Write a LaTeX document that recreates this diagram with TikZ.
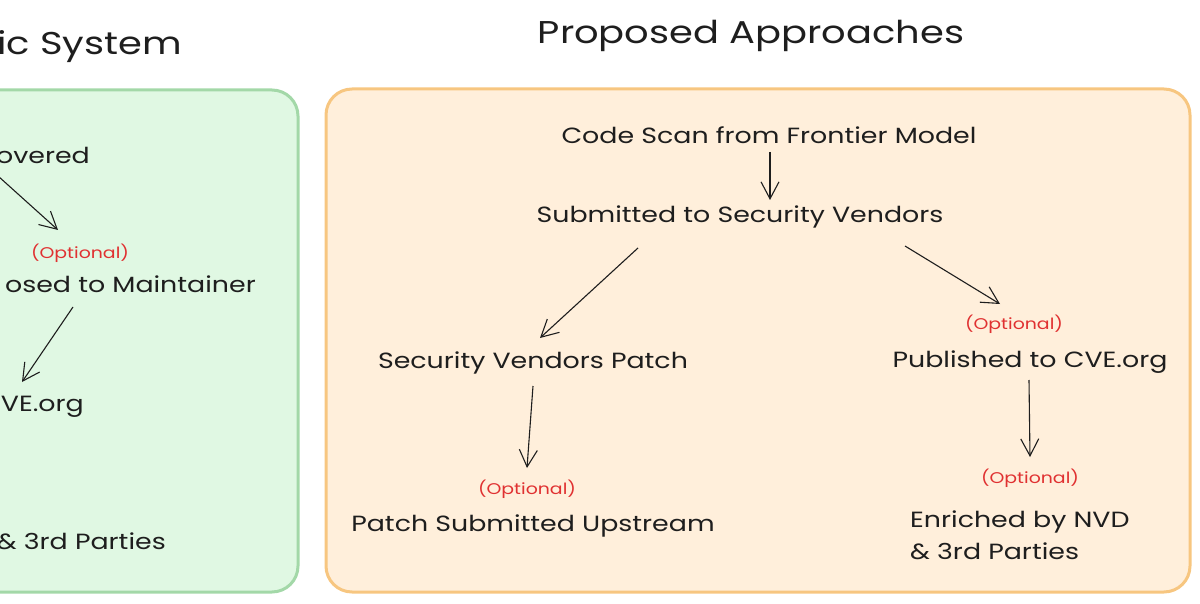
\documentclass[tikz,border=0pt]{standalone}
\usepackage{fontspec}
\setmainfont{Poppins}[FakeStretch=1.22]
\usetikzlibrary{arrows.meta}
\definecolor{gfill}{RGB}{224,248,227}
\definecolor{gline}{RGB}{163,216,168}
\definecolor{ofill}{RGB}{255,239,219}
\definecolor{oline}{RGB}{247,198,128}
\definecolor{optred}{RGB}{224,49,49}
\definecolor{ink}{RGB}{30,30,30}
\tikzset{
  panel/.style={line width=3pt, rounded corners=26pt},
  lbl/.style={font=\fontsize{22}{26}\selectfont, text=ink, inner sep=0pt},
  ttl/.style={font=\fontsize{31.5}{38}\selectfont, text=ink, inner sep=0pt},
  opt/.style={font=\fontsize{15.5}{18}\selectfont, text=optred, inner sep=0pt},
  flow/.style={draw=ink, line width=1.1pt, -{Straight Barb[length=17pt,width=18pt,line width=1.1pt]}}
}
\begin{document}
\begin{tikzpicture}[x=1pt,y=-1pt]
\useasboundingbox (0,0) rectangle (1200,604);
\clip (0,0) rectangle (1200,604);
% panels
\draw[panel, draw=gline, fill=gfill] (-200,90) rectangle (298,592);
\draw[panel, draw=oline, fill=ofill] (326,89) rectangle (1190,592);
% titles
\node[ttl, anchor=east] (lt) at (182,47) {ic System};
\node[ttl] (rt) at (751,36) {Proposed Approaches};
% left panel (clipped)
\node[lbl, anchor=east] (l1) at (90,155) {overed};
\node[opt] (lo1) at (80,253) {(Optional)};
\node[lbl, anchor=east] (l2) at (256,284) {osed to Maintainer};
\node[lbl, anchor=east] (l3) at (84,407) {VE.org};
\node[lbl, anchor=east] (l4) at (166,541) {\& 3rd Parties};
\coordinate (ls) at (-12,167);
\coordinate (la) at (58,230);
\coordinate (lb1) at (73,307);
\coordinate (lb2) at (22,382);
\draw[flow] (ls) -- (la);
\draw[flow] (lb1) -- (lb2);
% right panel
\node[lbl] (a) at (769,135) {Code Scan from Frontier Model};
\node[lbl] (b) at (740,217) {Submitted to Security Vendors};
\node[lbl] (c) at (533,363) {Security Vendors Patch};
\node[opt] (co) at (1014,324) {(Optional)};
\node[lbl] (d) at (1030,362) {Published to CVE.org};
\node[opt] (eo) at (527,489) {(Optional)};
\node[lbl] (e) at (533,526) {Patch Submitted Upstream};
\node[opt] (fo) at (1030,478) {(Optional)};
\node[lbl, align=left, anchor=north west, font=\fontsize{22}{32}\selectfont] (f) at (910,511) {Enriched by NVD\\\& 3rd Parties};
\coordinate (a-out) at (770,152);
\coordinate (b-in) at (770,200);
\coordinate (b-outl) at (638,248);
\coordinate (c-in) at (540,338);
\coordinate (b-outr) at (905,246);
\coordinate (d-in) at (1000,304);
\coordinate (c-out) at (533,386);
\coordinate (e-in) at (527,468);
\coordinate (d-out) at (1029,380);
\coordinate (f-in) at (1030,457);
\draw[flow] (a-out) -- (b-in);
\draw[flow] (b-outl) -- (c-in);
\draw[flow] (b-outr) -- (d-in);
\draw[flow] (c-out) -- (e-in);
\draw[flow] (d-out) -- (f-in);
\end{tikzpicture}
\end{document}
